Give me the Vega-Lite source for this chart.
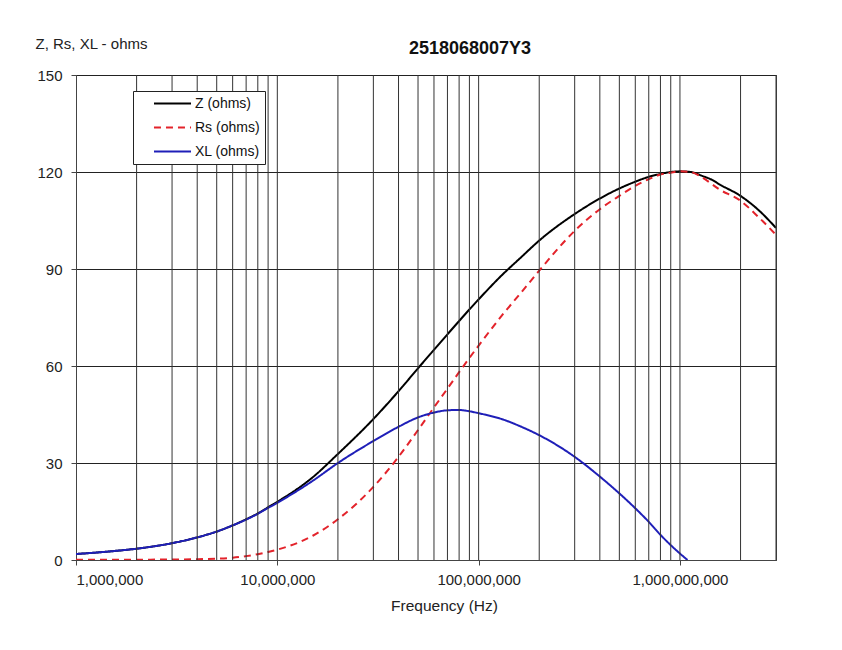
{
  "$schema": "https://vega.github.io/schema/vega-lite/v6.json",
  "width": 700,
  "height": 485,
  "autosize": {"type": "none"},
  "padding": {"left": 76, "top": 75, "right": 66, "bottom": 90},
  "background": "white",
  "title": {"text": "2518068007Y3", "fontSize": 18, "fontWeight": "bold", "font": "Liberation Sans", "color": "#111", "dx": 44, "offset": -22},
  "config": {
    "font": "Liberation Sans",
    "view": {"stroke": "#444", "strokeWidth": 1}
  },
  "data": {"values": [
    {"f": 1000000, "s": "Z (ohms)", "v": 1.85},
    {"f": 1500000, "s": "Z (ohms)", "v": 2.7},
    {"f": 2000000, "s": "Z (ohms)", "v": 3.5},
    {"f": 3000000, "s": "Z (ohms)", "v": 5.2},
    {"f": 4000000, "s": "Z (ohms)", "v": 7.0},
    {"f": 5000000, "s": "Z (ohms)", "v": 8.8},
    {"f": 6000000, "s": "Z (ohms)", "v": 10.7},
    {"f": 7000000, "s": "Z (ohms)", "v": 12.6},
    {"f": 8000000, "s": "Z (ohms)", "v": 14.4},
    {"f": 9000000, "s": "Z (ohms)", "v": 16.3},
    {"f": 10000000, "s": "Z (ohms)", "v": 18.0},
    {"f": 15000000, "s": "Z (ohms)", "v": 25.6},
    {"f": 20000000, "s": "Z (ohms)", "v": 32.8},
    {"f": 30000000, "s": "Z (ohms)", "v": 43.6},
    {"f": 40000000, "s": "Z (ohms)", "v": 52.2},
    {"f": 50000000, "s": "Z (ohms)", "v": 59.3},
    {"f": 60000000, "s": "Z (ohms)", "v": 65.0},
    {"f": 70000000, "s": "Z (ohms)", "v": 69.8},
    {"f": 80000000, "s": "Z (ohms)", "v": 73.9},
    {"f": 90000000, "s": "Z (ohms)", "v": 77.5},
    {"f": 100000000, "s": "Z (ohms)", "v": 80.6},
    {"f": 130000000, "s": "Z (ohms)", "v": 88.0},
    {"f": 163000000, "s": "Z (ohms)", "v": 93.7},
    {"f": 200000000, "s": "Z (ohms)", "v": 98.8},
    {"f": 300000000, "s": "Z (ohms)", "v": 107.0},
    {"f": 400000000, "s": "Z (ohms)", "v": 111.8},
    {"f": 500000000, "s": "Z (ohms)", "v": 114.9},
    {"f": 600000000, "s": "Z (ohms)", "v": 117.0},
    {"f": 700000000, "s": "Z (ohms)", "v": 118.5},
    {"f": 800000000, "s": "Z (ohms)", "v": 119.4},
    {"f": 900000000, "s": "Z (ohms)", "v": 120.0},
    {"f": 1000000000, "s": "Z (ohms)", "v": 120.2},
    {"f": 1130000000, "s": "Z (ohms)", "v": 120.0},
    {"f": 1290000000, "s": "Z (ohms)", "v": 118.8},
    {"f": 1450000000, "s": "Z (ohms)", "v": 117.5},
    {"f": 1570000000, "s": "Z (ohms)", "v": 116.2},
    {"f": 2000000000, "s": "Z (ohms)", "v": 112.6},
    {"f": 2460000000, "s": "Z (ohms)", "v": 108.2},
    {"f": 3000000000, "s": "Z (ohms)", "v": 102.7},

    {"f": 1000000, "s": "Rs (ohms)", "v": 0.05},
    {"f": 2000000, "s": "Rs (ohms)", "v": 0.1},
    {"f": 3000000, "s": "Rs (ohms)", "v": 0.15},
    {"f": 4000000, "s": "Rs (ohms)", "v": 0.25},
    {"f": 5000000, "s": "Rs (ohms)", "v": 0.4},
    {"f": 6000000, "s": "Rs (ohms)", "v": 0.7},
    {"f": 7000000, "s": "Rs (ohms)", "v": 1.2},
    {"f": 8000000, "s": "Rs (ohms)", "v": 1.8},
    {"f": 9000000, "s": "Rs (ohms)", "v": 2.5},
    {"f": 10000000, "s": "Rs (ohms)", "v": 3.2},
    {"f": 15000000, "s": "Rs (ohms)", "v": 7.5},
    {"f": 20000000, "s": "Rs (ohms)", "v": 12.6},
    {"f": 30000000, "s": "Rs (ohms)", "v": 22.6},
    {"f": 40000000, "s": "Rs (ohms)", "v": 31.9},
    {"f": 50000000, "s": "Rs (ohms)", "v": 40.2},
    {"f": 60000000, "s": "Rs (ohms)", "v": 47.2},
    {"f": 70000000, "s": "Rs (ohms)", "v": 53.0},
    {"f": 80000000, "s": "Rs (ohms)", "v": 58.1},
    {"f": 90000000, "s": "Rs (ohms)", "v": 62.5},
    {"f": 100000000, "s": "Rs (ohms)", "v": 66.3},
    {"f": 130000000, "s": "Rs (ohms)", "v": 75.5},
    {"f": 163000000, "s": "Rs (ohms)", "v": 82.8},
    {"f": 200000000, "s": "Rs (ohms)", "v": 89.5},
    {"f": 300000000, "s": "Rs (ohms)", "v": 101.8},
    {"f": 400000000, "s": "Rs (ohms)", "v": 108.5},
    {"f": 500000000, "s": "Rs (ohms)", "v": 112.6},
    {"f": 600000000, "s": "Rs (ohms)", "v": 115.7},
    {"f": 700000000, "s": "Rs (ohms)", "v": 117.8},
    {"f": 800000000, "s": "Rs (ohms)", "v": 119.2},
    {"f": 900000000, "s": "Rs (ohms)", "v": 119.8},
    {"f": 1000000000, "s": "Rs (ohms)", "v": 120.2},
    {"f": 1130000000, "s": "Rs (ohms)", "v": 120.0},
    {"f": 1290000000, "s": "Rs (ohms)", "v": 118.3},
    {"f": 1570000000, "s": "Rs (ohms)", "v": 114.6},
    {"f": 2000000000, "s": "Rs (ohms)", "v": 111.1},
    {"f": 2460000000, "s": "Rs (ohms)", "v": 106.0},
    {"f": 3000000000, "s": "Rs (ohms)", "v": 100.6},

    {"f": 1000000, "s": "XL (ohms)", "v": 1.85},
    {"f": 1500000, "s": "XL (ohms)", "v": 2.7},
    {"f": 2000000, "s": "XL (ohms)", "v": 3.5},
    {"f": 3000000, "s": "XL (ohms)", "v": 5.2},
    {"f": 4000000, "s": "XL (ohms)", "v": 7.0},
    {"f": 5000000, "s": "XL (ohms)", "v": 8.8},
    {"f": 6000000, "s": "XL (ohms)", "v": 10.7},
    {"f": 7000000, "s": "XL (ohms)", "v": 12.5},
    {"f": 8000000, "s": "XL (ohms)", "v": 14.3},
    {"f": 9000000, "s": "XL (ohms)", "v": 16.1},
    {"f": 10000000, "s": "XL (ohms)", "v": 17.7},
    {"f": 15000000, "s": "XL (ohms)", "v": 24.5},
    {"f": 20000000, "s": "XL (ohms)", "v": 30.0},
    {"f": 30000000, "s": "XL (ohms)", "v": 36.8},
    {"f": 40000000, "s": "XL (ohms)", "v": 41.2},
    {"f": 50000000, "s": "XL (ohms)", "v": 44.1},
    {"f": 60000000, "s": "XL (ohms)", "v": 45.6},
    {"f": 70000000, "s": "XL (ohms)", "v": 46.3},
    {"f": 80000000, "s": "XL (ohms)", "v": 46.4},
    {"f": 90000000, "s": "XL (ohms)", "v": 46.0},
    {"f": 100000000, "s": "XL (ohms)", "v": 45.4},
    {"f": 130000000, "s": "XL (ohms)", "v": 43.6},
    {"f": 163000000, "s": "XL (ohms)", "v": 41.2},
    {"f": 200000000, "s": "XL (ohms)", "v": 38.6},
    {"f": 300000000, "s": "XL (ohms)", "v": 31.9},
    {"f": 400000000, "s": "XL (ohms)", "v": 25.8},
    {"f": 500000000, "s": "XL (ohms)", "v": 20.6},
    {"f": 600000000, "s": "XL (ohms)", "v": 16.0},
    {"f": 700000000, "s": "XL (ohms)", "v": 11.8},
    {"f": 800000000, "s": "XL (ohms)", "v": 7.8},
    {"f": 900000000, "s": "XL (ohms)", "v": 4.6},
    {"f": 1000000000, "s": "XL (ohms)", "v": 2.0},
    {"f": 1090000000, "s": "XL (ohms)", "v": 0}
  ]},
  "layer": [
    {
      "mark": {"type": "line", "strokeWidth": 2, "interpolate": "monotone", "clip": true},
      "encoding": {
        "x": {
          "field": "f", "type": "quantitative",
          "scale": {"type": "log", "domain": [1000000, 3000000000], "nice": false},
          "axis": {
            "values": [1000000, 10000000, 100000000, 1000000000],
            "format": ",",
            "grid": false,
            "domainColor": "#444",
            "tickColor": "#444",
            "tickSize": 5,
            "labelFontSize": 15,
            "labelColor": "#222",
            "labelPadding": 7,
            "title": "Frequency (Hz)",
            "titleFontSize": 15.5,
            "titleFontWeight": "normal",
            "titleColor": "#222",
            "titleX": 368,
            "titleY": 45,
            "titleBaseline": "middle"
          }
        },
        "y": {
          "field": "v", "type": "quantitative",
          "scale": {"domain": [0, 150], "nice": false},
          "axis": {
            "values": [0, 30, 60, 90, 120, 150],
            "grid": true,
            "gridColor": "#222",
            "gridWidth": 1,
            "domainColor": "#444",
            "tickColor": "#444",
            "tickSize": 5,
            "labelFontSize": 15,
            "labelColor": "#222",
            "labelPadding": 9,
            "title": "Z, Rs, XL - ohms",
            "titleAngle": 0,
            "titleAlign": "left",
            "titleBaseline": "middle",
            "titleFontSize": 15,
            "titleFontWeight": "normal",
            "titleColor": "#222",
            "titleX": -41,
            "titleY": -32
          }
        },
        "color": {
          "field": "s", "type": "nominal",
          "scale": {"domain": ["Z (ohms)", "Rs (ohms)", "XL (ohms)"], "range": ["#000000", "#e3232b", "#1f1fb8"]},
          "legend": {
            "title": null,
            "orient": "none",
            "legendX": 57,
            "legendY": 16,
            "strokeColor": "#222",
            "fillColor": "white",
            "padding": 5,
            "symbolType": "M-2.85,0H2.85",
            "symbolSize": 169,
            "symbolStrokeWidth": 2,
            "symbolOffset": 27,
            "labelFontSize": 14,
            "labelColor": "#111",
            "labelOffset": 15,
            "labelExpr": "datum.label + '\u2003\u2003\u00a0'",
            "rowPadding": 9
          }
        },
        "strokeDash": {
          "field": "s", "type": "nominal",
          "scale": {"domain": ["Z (ohms)", "Rs (ohms)", "XL (ohms)"], "range": [[1, 0], [7, 5], [1, 0]]},
          "legend": null
        },
        "order": {"field": "f", "type": "quantitative"}
      }
    },
    {
      "mark": {"type": "rule", "color": "#333", "strokeWidth": 1},
      "data": {"values": [
        {"g": 2000000}, {"g": 3000000}, {"g": 4000000}, {"g": 5000000}, {"g": 6000000}, {"g": 7000000}, {"g": 8000000}, {"g": 9000000},
        {"g": 10000000}, {"g": 20000000}, {"g": 30000000}, {"g": 40000000}, {"g": 50000000}, {"g": 60000000}, {"g": 70000000}, {"g": 80000000}, {"g": 90000000},
        {"g": 100000000}, {"g": 200000000}, {"g": 300000000}, {"g": 400000000}, {"g": 500000000}, {"g": 600000000}, {"g": 700000000}, {"g": 800000000}, {"g": 900000000},
        {"g": 1000000000}, {"g": 2000000000}, {"g": 3000000000}
      ]},
      "encoding": {
        "x": {"field": "g", "type": "quantitative"}
      }
    }
  ]
}
